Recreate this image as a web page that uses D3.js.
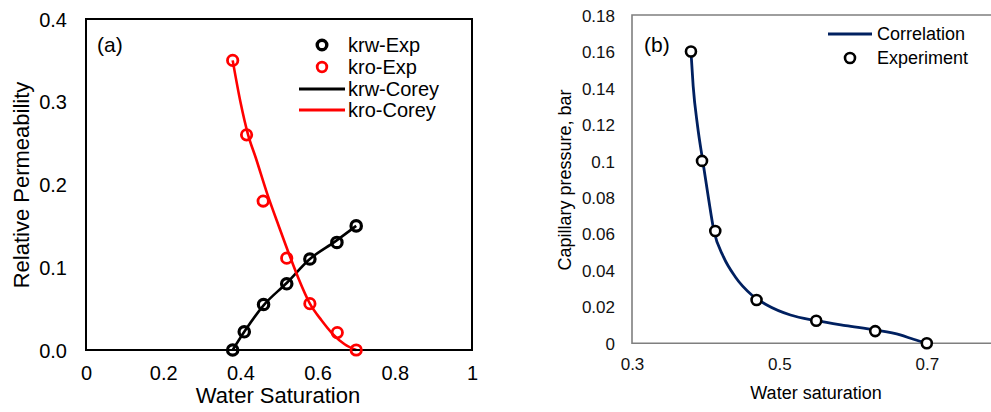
<!DOCTYPE html>
<html>
<head>
<meta charset="utf-8">
<script src="https://cdn.jsdelivr.net/npm/d3@7"></script>
<style>
  body { margin: 0; background: #fff; }
  svg { display: block; font-family: "Liberation Sans", Arial, sans-serif; }
</style>
</head>
<body>
<div id="chart"></div>
<script>
// ---- Data (a): relative permeability ----
const krwExpSw = [0.38, 0.41, 0.46, 0.52, 0.58, 0.65, 0.70];
const krwExp   = [0.0, 0.022, 0.055, 0.08, 0.11, 0.13, 0.15];
const kroExpSw = [0.38, 0.416, 0.459, 0.52, 0.58, 0.651, 0.70];
const kroExp   = [0.35, 0.26, 0.18, 0.111, 0.056, 0.021, 0.0];
const krwCoreySw = [0.38, 0.41, 0.46, 0.52, 0.58, 0.645, 0.70];
const krwCorey   = [0.0, 0.022, 0.054, 0.081, 0.11, 0.131, 0.15];
const kroCoreySw = [0.38, 0.40, 0.42, 0.44, 0.47, 0.50, 0.53, 0.55, 0.58, 0.61, 0.64, 0.67, 0.70];
const kroCorey   = [0.35, 0.30, 0.26, 0.232, 0.188, 0.149, 0.111, 0.087, 0.056, 0.036, 0.019, 0.007, 0.0];

// ---- Data (b): capillary pressure ----
const pcExpSw = [0.38, 0.395, 0.413, 0.469, 0.55, 0.63, 0.70];
const pcExp   = [0.16, 0.10, 0.0616, 0.0237, 0.0124, 0.0067, 0.0];
const pcCorrSw = [0.38, 0.383, 0.389, 0.396, 0.404, 0.411, 0.424, 0.44, 0.4625, 0.483, 0.515, 0.55, 0.59, 0.63, 0.664, 0.682, 0.70];
const pcCorr   = [0.16, 0.141, 0.119, 0.10, 0.079, 0.062, 0.0475, 0.0365, 0.0265, 0.021, 0.0155, 0.0124, 0.0097, 0.0073, 0.0046, 0.0022, 0.0];

// tick labels
const aXTicks = [0, 0.2, 0.4, 0.6, 0.8, 1];
const aYTicks = [0, 0.1, 0.2, 0.3, 0.4];
const bXTicks = [0.3, 0.5, 0.7];
const bYTicks = ["0", "0.02", "0.04", "0.06", "0.08", "0.1", "0.12", "0.14", "0.16", "0.18"];

const svgWidth = 991, svgHeight = 412;
const svg = d3.select("#chart").append("svg")
    .attr("width", svgWidth)
    .attr("height", svgHeight);

const zip = (xs, ys) => xs.map((x, i) => [x, ys[i]]);

// ================= Panel (a) =================
const xA = d3.scaleLinear().domain([0, 1]).range([86, 472]);
const yA = d3.scaleLinear().domain([0, 0.4]).range([350, 19]);

const panelA = svg.append("g");

// lines
const lineA = d3.line().x(d => xA(d[0])).y(d => yA(d[1])).curve(d3.curveMonotoneX);
panelA.append("path")
    .datum(zip(krwCoreySw, krwCorey))
    .attr("d", lineA)
    .attr("fill", "none").attr("stroke", "#000").attr("stroke-width", 2.6);
panelA.append("path")
    .datum(zip(kroCoreySw, kroCorey))
    .attr("d", lineA)
    .attr("fill", "none").attr("stroke", "#ff0000").attr("stroke-width", 2.6);

// frame
panelA.append("rect")
    .attr("x", xA(0)).attr("y", yA(0.4))
    .attr("width", xA(1) - xA(0)).attr("height", yA(0) - yA(0.4))
    .attr("fill", "none").attr("stroke", "#000").attr("stroke-width", 2);

// markers
panelA.selectAll(".krw").data(zip(krwExpSw, krwExp)).enter()
    .append("circle")
    .attr("cx", d => xA(d[0])).attr("cy", d => yA(d[1]))
    .attr("r", 5.2).attr("fill", "none").attr("stroke", "#000").attr("stroke-width", 3.2);
panelA.selectAll(".kro").data(zip(kroExpSw, kroExp)).enter()
    .append("circle")
    .attr("cx", d => xA(d[0])).attr("cy", d => yA(d[1]))
    .attr("r", 5.2).attr("fill", "none").attr("stroke", "#ff0000").attr("stroke-width", 2.8);

// axes (labels only)
const axA_x = panelA.append("g")
    .attr("transform", `translate(0,${yA(0)})`)
    .call(d3.axisBottom(xA).tickValues(aXTicks).tickSize(0).tickPadding(16).tickFormat(d3.format("~g")));
const axA_y = panelA.append("g")
    .attr("transform", `translate(${xA(0)},0)`)
    .call(d3.axisLeft(yA).tickValues(aYTicks).tickSize(0).tickPadding(19).tickFormat(d3.format(".1f")));
[axA_x, axA_y].forEach(ax => {
    ax.select(".domain").remove();
    ax.selectAll("text").attr("font-size", "20px").attr("fill", "#000")
        .attr("font-family", "Liberation Sans, Arial, sans-serif");
});
axA_y.selectAll("text").attr("dy", "0.36em");

// axis titles
panelA.append("text")
    .attr("x", 278).attr("y", 403)
    .attr("text-anchor", "middle").attr("font-size", "22px")
    .text("Water Saturation");
panelA.append("text")
    .attr("transform", "translate(29,185) rotate(-90)")
    .attr("text-anchor", "middle").attr("font-size", "22px")
    .text("Relative Permeability");

panelA.append("text")
    .attr("x", 97).attr("y", 52)
    .attr("font-size", "21px")
    .text("(a)");

// legend
const legA = panelA.append("g");
legA.append("circle").attr("cx", 322).attr("cy", 45).attr("r", 4.8)
    .attr("fill", "none").attr("stroke", "#000").attr("stroke-width", 3.4);
legA.append("circle").attr("cx", 322).attr("cy", 67).attr("r", 4.8)
    .attr("fill", "none").attr("stroke", "#ff0000").attr("stroke-width", 2.8);
legA.append("line").attr("x1", 299).attr("x2", 345).attr("y1", 89).attr("y2", 89)
    .attr("stroke", "#000").attr("stroke-width", 2.8);
legA.append("line").attr("x1", 299).attr("x2", 345).attr("y1", 110).attr("y2", 110)
    .attr("stroke", "#ff0000").attr("stroke-width", 2.8);
const legALabels = ["krw-Exp", "kro-Exp", "krw-Corey", "kro-Corey"];
const legAY = [45, 67, 89, 110];
legA.selectAll("text").data(legALabels).enter().append("text")
    .attr("x", 348).attr("y", (d, i) => legAY[i]).attr("dy", "0.35em")
    .attr("font-size", "20px")
    .text(d => d);

// ================= Panel (b) =================
const xB = d3.scaleLinear().domain([0.3, 0.8]).range([632, 1000.5]);
const yB = d3.scaleLinear().domain([0, 0.18]).range([343.3, 15]);
const panelB = svg.append("g");
const grey = "#7f7f7f";

// frame (left, top, bottom)
panelB.append("path")
    .attr("d", `M${xB(0.8)},${yB(0.18)}H${xB(0.3)}V${yB(0)}H${xB(0.8)}`)
    .attr("fill", "none").attr("stroke", grey).attr("stroke-width", 1.6);

const lineB = d3.line().x(d => xB(d[0])).y(d => yB(d[1])).curve(d3.curveMonotoneX);
panelB.append("path")
    .datum(zip(pcCorrSw, pcCorr))
    .attr("d", lineB)
    .attr("fill", "none").attr("stroke", "#002060").attr("stroke-width", 2.8);

panelB.selectAll(".pc").data(zip(pcExpSw, pcExp)).enter()
    .append("circle")
    .attr("cx", d => xB(d[0])).attr("cy", d => yB(d[1]))
    .attr("r", 5).attr("fill", "#fff").attr("stroke", "#000").attr("stroke-width", 2.6);

const axB_x = panelB.append("g")
    .attr("transform", `translate(0,${yB(0)})`)
    .call(d3.axisBottom(xB).tickValues(bXTicks).tickSize(0).tickPadding(15).tickFormat(d3.format("~g")));
const axB_y = panelB.append("g")
    .attr("transform", `translate(${xB(0.3)},0)`)
    .call(d3.axisLeft(yB).tickValues(bYTicks.map(Number)).tickSize(0).tickPadding(17)
        .tickFormat((d, i) => bYTicks[i]));
[axB_x, axB_y].forEach(ax => {
    ax.select(".domain").remove();
    ax.selectAll("text").attr("font-size", "17px").attr("fill", "#111")
        .attr("font-family", "Liberation Sans, Arial, sans-serif");
});
axB_y.selectAll("text").attr("dy", "0.36em");

panelB.append("text")
    .attr("x", 816).attr("y", 399)
    .attr("text-anchor", "middle").attr("font-size", "18px")
    .text("Water saturation");
panelB.append("text")
    .attr("transform", "translate(571,180) rotate(-90)")
    .attr("text-anchor", "middle").attr("font-size", "18px")
    .text("Capillary pressure, bar");

panelB.append("text")
    .attr("x", 644).attr("y", 52)
    .attr("font-size", "21px")
    .text("(b)");

// legend
const legB = panelB.append("g");
legB.append("line").attr("x1", 828).attr("x2", 872).attr("y1", 34).attr("y2", 34)
    .attr("stroke", "#002060").attr("stroke-width", 2.8);
legB.append("circle").attr("cx", 850).attr("cy", 58).attr("r", 5)
    .attr("fill", "#fff").attr("stroke", "#000").attr("stroke-width", 2.6);
const legBLabels = ["Correlation", "Experiment"];
const legBY = [34, 58];
legB.selectAll("text").data(legBLabels).enter().append("text")
    .attr("x", 877).attr("y", (d, i) => legBY[i]).attr("dy", "0.35em")
    .attr("font-size", "18px")
    .text(d => d);
</script>
</body>
</html>
